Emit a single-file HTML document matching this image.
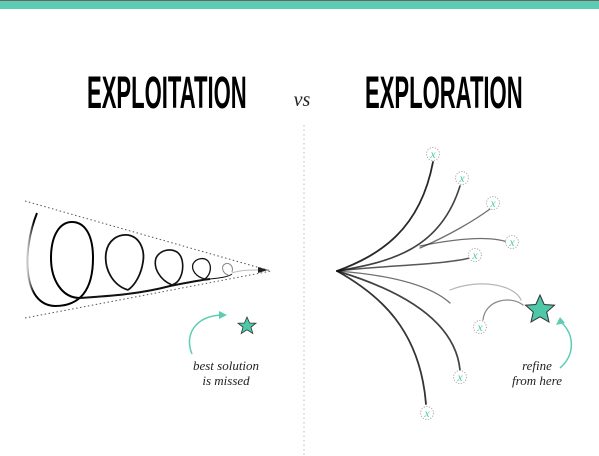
<!DOCTYPE html>
<html><head><style>
body{margin:0;width:599px;height:456px;background:#fff;overflow:hidden;position:relative;font-family:"Liberation Sans",sans-serif}
.t{position:absolute;top:70px;font-weight:bold;font-size:45px;letter-spacing:0px;transform-origin:0 0;transform:scaleX(0.49);color:#000;line-height:45px}
.it{font-family:"Liberation Serif",serif;font-style:italic;fill:#222;font-size:13px}
</style></head><body>
<div style="position:absolute;left:0;top:0;width:599px;height:1px;background:#666"></div>
<div style="position:absolute;left:0;top:1px;width:599px;height:8px;background:#5ccdb3"></div>
<div class="t" style="left:87px">EXPLOITATION</div>
<div class="t" style="left:365px">EXPLORATION</div>
<svg width="599" height="456" style="position:absolute;left:0;top:0">
<defs>
<linearGradient id="fade" x1="0" x2="1"><stop offset="0" stop-color="#000" stop-opacity="0.2"/><stop offset="0.1" stop-color="#000"/></linearGradient>
</defs>
<text x="302" y="106" class="it" style="font-size:20px" text-anchor="middle">vs</text>
<line x1="304" y1="125" x2="304" y2="456" stroke="#bbb" stroke-dasharray="1.5,3"/>
<line x1="25" y1="201" x2="271" y2="271" stroke="#555" stroke-dasharray="1.5,2.5"/>
<line x1="25" y1="318" x2="271" y2="271" stroke="#555" stroke-dasharray="1.5,2.5"/>
<g fill="none" stroke="#111" stroke-width="2">
<path d="M37,213 C22,250 22,305 55,306 C80,306 93,290 93,258 C93,232 83,222 72,222 C60,222 51,235 51,258 C51,280 62,298 80,298" stroke="url(#fade)"/>
<path d="M80,298 C110,296 140,294 170,286 C190,282 200,280 210,279"/>
<path d="M128,290 C112,285 104,268 106,253 C108,240 118,234 128,235 C140,237 145,250 143,262 C141,275 135,285 128,290" stroke-width="1.8"/>
<path d="M172,285 C160,280 153,268 156,258 C160,250 170,248 177,252 C184,257 184,270 180,278 C178,282 175,284 172,285" stroke-width="1.6"/>
<path d="M205,279 C196,277 191,270 193,264 C196,258 204,257 208,261 C212,266 211,274 205,279" stroke-width="1.3"/>
<path d="M210,279 C220,278 228,277 232,274" stroke-width="1"/>
<path d="M228,275 C222,273 221,266 225,264 C229,262 234,266 232,272" stroke="#888" stroke-width="1"/>
<path d="M232,273 C240,270 250,270 262,270" stroke="#bbb" stroke-width="1"/>
</g>
<path d="M258,267 L268,270 L258,273 Z" fill="#222"/>
<path d="M192,354 C184,335 195,316 222,315" fill="none" stroke="#5ccdb3" stroke-width="1.5"/>
<path d="M219,311 L227,315 L219,319 Z" fill="#5ccdb3"/>
<polygon points="247,317 249.6,323 256,323.2 251,327.2 252.8,333.5 247,329.8 241.2,333.5 243,327.2 238,323.2 244.4,323" fill="#4dc9a9" stroke="#333" stroke-width="0.8"/>
<text x="226" y="370" class="it" text-anchor="middle">best solution</text>
<text x="226" y="385" class="it" text-anchor="middle">is missed</text>
<g fill="none" stroke="#111" stroke-linecap="round">
<path d="M337,271 C380,255 420,230 433,162" stroke-width="1.8" opacity="0.9"/>
<path d="M337,271 C390,262 440,250 460,186" stroke-width="1.6" opacity="0.8"/>
<path d="M420,248 C450,235 475,220 490,209" stroke-width="1.3" opacity="0.6"/>
<path d="M420,246 C460,238 490,236 507,242" stroke-width="1.3" opacity="0.6"/>
<path d="M337,271 C390,265 440,265 470,258" stroke-width="1.5" opacity="0.7"/>
<path d="M337,271 C390,275 430,285 450,303" stroke-width="1.3" opacity="0.6"/>
<path d="M450,290 C480,278 515,285 521,300" stroke-width="1.2" opacity="0.3"/>
<path d="M483,320 C485,300 510,295 523,305" stroke-width="1.2" opacity="0.5"/>
<path d="M337,271 C400,290 455,320 460,370" stroke-width="1.7" opacity="0.8"/>
<path d="M337,271 C380,295 420,330 426,404" stroke-width="1.8" opacity="0.85"/>
</g>
<g fill="#fff" stroke="#aaa" stroke-dasharray="1.2,1.5">
<circle cx="433" cy="154" r="6.5"/><circle cx="462" cy="178" r="6.5"/><circle cx="493" cy="203" r="6.5"/><circle cx="512" cy="242" r="6.5"/><circle cx="475" cy="255" r="6.5"/><circle cx="480" cy="327" r="6.5"/><circle cx="460" cy="377" r="6.5"/><circle cx="427" cy="413" r="6.5"/>
</g>
<g font-family="Liberation Serif,serif" font-style="italic" font-size="12" fill="#4dc9a9" text-anchor="middle">
<text x="433" y="158">x</text><text x="462" y="182">x</text><text x="493" y="207">x</text><text x="512" y="246">x</text><text x="475" y="259">x</text><text x="480" y="331">x</text><text x="460" y="381">x</text><text x="427" y="417">x</text>
</g>
<polygon points="540,295 544.2,304.5 554.5,305.2 546.7,312 549,322 540,316.8 531,322 533.3,312 525.5,305.2 535.8,304.5" fill="#4dc9a9" stroke="#333" stroke-width="1"/>
<path d="M560,368 C575,355 575,335 561,322" fill="none" stroke="#5ccdb3" stroke-width="1.5"/>
<path d="M556,325 L560,317 L565,323 Z" fill="#5ccdb3"/>
<text x="537" y="370" class="it" text-anchor="middle">refine</text>
<text x="537" y="385" class="it" text-anchor="middle">from here</text>
</svg>
</body></html>
